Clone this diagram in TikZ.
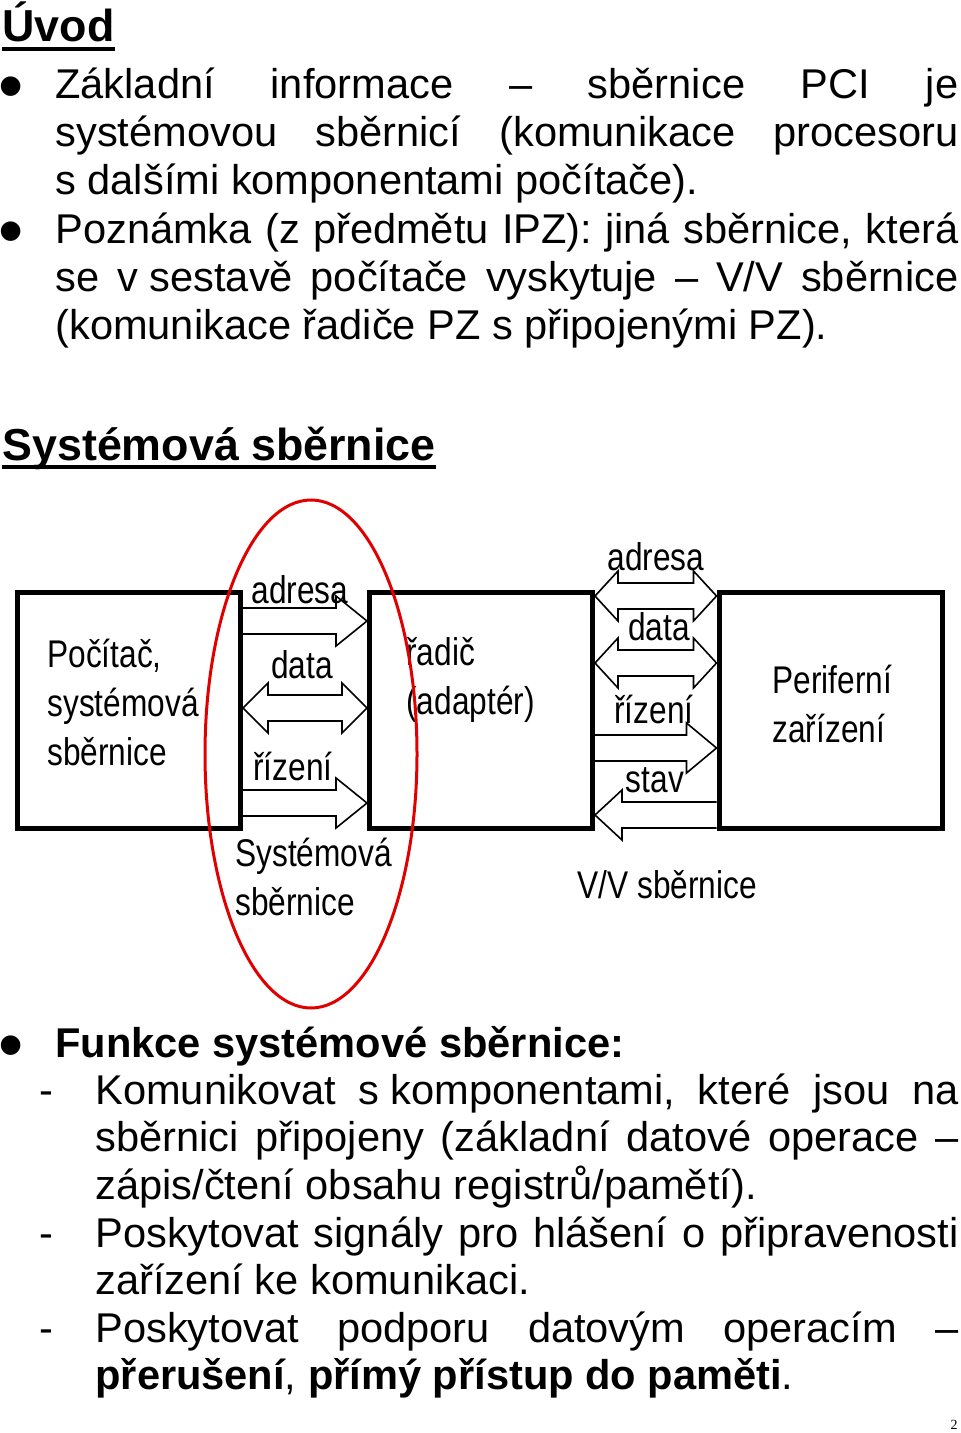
\documentclass[tikz,border=0pt]{standalone}
\usepackage{fontspec}
\setmainfont{Liberation Sans}
\newfontfamily\diagfont{Liberation Sans}[FakeStretch=0.82]
\newfontfamily\pagefont{Liberation Serif}
\usetikzlibrary{calc}
\definecolor{ovalred}{RGB}{225,0,0}
\tolerance=9999
\hyphenpenalty=10000

% block arrows between two boxes: {left box}{right box}{y}{head length}
\newcommand{\busR}[4]{%
  \draw[busline] ($(#1.east |- 0,#3)+(0,-13)$) -| ($(#2.west |- 0,#3)+(-#4,-25)$)
    -- (#2.west |- 0,#3) -- ($(#2.west |- 0,#3)+(-#4,25)$) |- ($(#1.east |- 0,#3)+(0,13)$);}
\newcommand{\busL}[4]{%
  \draw[busline] ($(#2.west |- 0,#3)+(0,-13)$) -| ($(#1.east |- 0,#3)+(#4,-25)$)
    -- (#1.east |- 0,#3) -- ($(#1.east |- 0,#3)+(#4,25)$) |- ($(#2.west |- 0,#3)+(0,13)$);}
\newcommand{\busD}[4]{%
  \draw[busline] ($(#1.east |- 0,#3)+(#4,-13)$) -- ($(#2.west |- 0,#3)+(-#4,-13)$) -- ++(0,-12)
    -- (#2.west |- 0,#3) -- ($(#2.west |- 0,#3)+(-#4,25)$) -- ++(0,-12)
    -- ($(#1.east |- 0,#3)+(#4,13)$) -- ++(0,12) -- (#1.east |- 0,#3)
    -- ($(#1.east |- 0,#3)+(#4,-25)$) -- cycle;}

\begin{document}
\begin{tikzpicture}[
  x=0.5pt, y=-0.5pt,
  heading/.style={inner sep=0pt, font=\bfseries\fontsize{22.4}{26}\selectfont},
  para/.style={inner sep=0pt, text width=451.5pt, align=justify, font=\fontsize{20.8}{23.8}\selectfont},
  item/.style={para, text width=431.5pt},
  bulletmark/.style={inner sep=0pt, font=\fontsize{36}{36}\selectfont},
  dashmark/.style={inner sep=0pt, font=\fontsize{20.8}{23.8}\selectfont},
  box/.style={draw, line width=2.5pt, minimum width=111.5pt, minimum height=118pt, inner sep=0pt},
  busline/.style={line width=0.8pt, line join=miter},
  lbl/.style={inner sep=0pt, align=left, font=\diagfont\fontsize{19.3}{24.5}\selectfont}
]
  \useasboundingbox (0,0) rectangle (960,1433);

  % Uvod
  \node[heading, anchor=base west] (uvod) at (2,42) {Úvod};
  \draw[line width=2pt] ([yshift=-3.5pt]uvod.base west) -- ([yshift=-3.5pt]uvod.base east);
  \node[bulletmark, anchor=base] (b1) at (11,111) {•};
  \node[para, anchor=base west] (pci) at (55,99) {Základní informace – sběrnice PCI je\linebreak
    systémovou sběrnicí (komunikace procesoru\linebreak s~dalšími komponentami počítače).};
  \node[bulletmark, anchor=base] (b2) at (11,256) {•};
  \node[para, anchor=base west] (ipz) at (55,244) {Poznámka (z předmětu IPZ): jiná sběrnice, která\linebreak
    se \mbox{v sestavě} počítače vyskytuje – V/V sběrnice\linebreak (komunikace řadiče PZ s~připojenými PZ).};

  % Systemova sbernice
  \node[heading, anchor=base west] (sysbus) at (2,460) {Systémová sběrnice};
  \draw[line width=2pt] ([yshift=-3.5pt]sysbus.base west) -- ([yshift=-3.5pt]sysbus.base east);

  \node[box] (pc)     at (129,710) {};
  \node[box] (radic)  at (481,710) {};
  \node[box] (periph) at (830.5,710) {};
  % multi-line labels: base = last line
  \node[lbl, anchor=base west] (pctext) at (47,765) {Počítač,\\systémová\\sběrnice};
  \node[lbl, anchor=base west] (radictext) at (406,714) {řadič\\(adaptér)};
  \node[lbl, anchor=base west] (periphtext) at (772,742) {Periferní\\zařízení};

  \busR{pc}{radic}{621}{31}
  \busD{pc}{radic}{708}{25}
  \busR{pc}{radic}{803}{31}
  \busD{radic}{periph}{596}{23}
  \busD{radic}{periph}{663}{23}
  \busR{radic}{periph}{748}{30}
  \busL{radic}{periph}{815}{27}

  \node[lbl, anchor=base] (sadr) at (300,603) {adresa};
  \node[lbl, anchor=base] (sdata) at (302,678) {data};
  \node[lbl, anchor=base] (sriz) at (293,780) {řízení};
  \node[lbl, anchor=base] (vadr) at (656,570) {adresa};
  \node[lbl, anchor=base] (vdata) at (659,640) {data};
  \node[lbl, anchor=base] (vriz) at (654,723) {řízení};
  \node[lbl, anchor=base] (vstav) at (655,792) {stav};
  \node[lbl, anchor=base west] (sysname) at (235,915) {Systémová\\sběrnice};
  \node[lbl, anchor=base west] (vvname) at (577,898) {V/V sběrnice};

  \draw[ovalred, line width=1.5pt] (311,754) ellipse [x radius=53pt, y radius=127pt];

  % Funkce
  \node[bulletmark, anchor=base] (b3) at (11,1069) {•};
  \node[para, anchor=base west, font=\bfseries\fontsize{20.8}{23.8}\selectfont] (funkce) at (55,1057) {Funkce systémové sběrnice:};
  \node[dashmark, anchor=base] (d1) at (46,1104) {-};
  \node[item, anchor=base west] (f1) at (95,1104) {Komunikovat \mbox{s komponentami,} které jsou na\linebreak
    sběrnici připojeny (základní datové operace –\linebreak zápis/čtení obsahu registrů/pamětí).};
  \node[dashmark, anchor=base] (d2) at (46,1247) {-};
  \node[item, anchor=base west] (f2) at (95,1247) {Poskytovat signály pro hlášení o připravenosti\linebreak
    zařízení ke komunikaci.};
  \node[dashmark, anchor=base] (d3) at (46,1342) {-};
  \node[item, anchor=base west] (f3) at (95,1342) {Poskytovat podporu datovým operacím –\linebreak
    \textbf{přerušení}, \textbf{přímý přístup do paměti}.};

  \node[anchor=base east, inner sep=0pt, font=\pagefont\fontsize{7}{8}\selectfont] (pagenum) at (958,1429) {2};
\end{tikzpicture}
\end{document}
